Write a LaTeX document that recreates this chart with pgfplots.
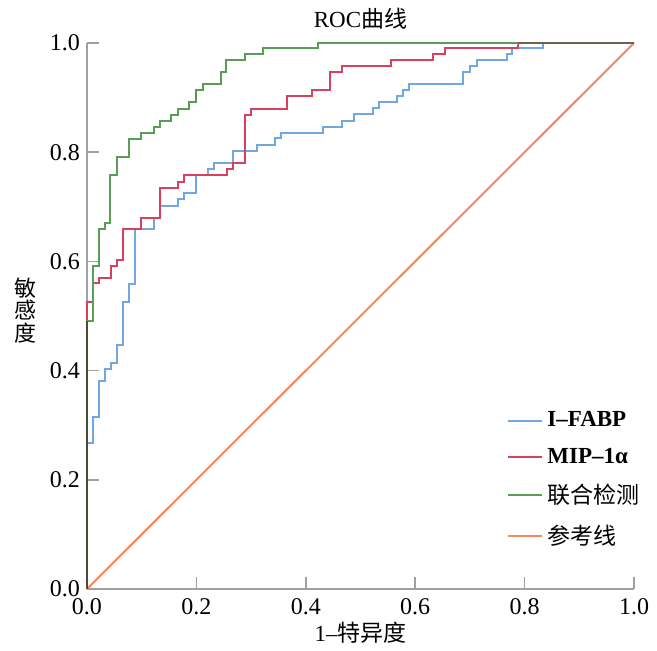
\documentclass[border=0pt]{standalone}
\usepackage{fontspec}
\setmainfont{Liberation Serif}
\newfontfamily\cjk{Noto Sans CJK SC}
\usepackage{pgfplots}
\pgfplotsset{compat=1.18}

\definecolor{cfabp}{HTML}{72A8E0}
\definecolor{cmip}{HTML}{D9405E}
\definecolor{ccomb}{HTML}{5A9E55}
\definecolor{cref}{HTML}{F4875F}
\definecolor{cdark}{HTML}{4D4A3A}
\definecolor{cdark2}{HTML}{6E6150}
\definecolor{caxis}{HTML}{A0A0A0}

\begin{document}
\begin{tikzpicture}
\useasboundingbox (-43.5pt,-30.5pt) rectangle (285pt,294.5pt);
\begin{axis}[
    scale only axis,
    width=273.5pt,
    height=273pt,
    xmin=0, xmax=1,
    ymin=0, ymax=1,
    clip=false,
    axis x line*=bottom,
    axis y line*=left,
    axis line style={-, caxis, line width=1.2pt},
    tick align=inside,
    major tick length=6pt,
    tick style={caxis, line width=0.8pt},
    xtick={0,0.2,0.4,0.6,0.8,1},
    xticklabels={0.0,0.2,0.4,0.6,0.8,1.0},
    ytick={0,0.2,0.4,0.6,0.8,1},
    yticklabels={0.0,0.2,0.4,0.6,0.8,1.0},
    ticklabel style={font=\fontsize{12}{14}\selectfont},
    xticklabel style={yshift=-1pt},
    title={ROC{\cjk 曲线}},
    title style={font=\fontsize{11.5}{13}\selectfont, at={(0.5,1)}, anchor=south, yshift=-2.5pt},
    xlabel={1--{\cjk 特异度}},
    xlabel style={font=\fontsize{11.5}{13}\selectfont, at={(axis description cs:0.5,0)}, anchor=center, yshift=-22pt},
    ylabel={敏\\感\\度},
    ylabel style={rotate=-90, align=center, font=\fontsize{11}{11.2}\selectfont\cjk, at={(axis description cs:-0.113,0.51)}, anchor=center},
    legend style={draw=none, fill=none, at={(axis description cs:0.757,0.34)}, anchor=north west,
        font=\fontsize{11.5}{13}\selectfont\bfseries, row sep=5pt, cells={anchor=west}},
    legend image code/.code={\draw[#1] (0pt,0pt) -- (17pt,0pt);},
    every axis plot/.append style={line width=1pt},
]

% I-FABP
\addplot[const plot, cfabp] coordinates {
    (0,0) (0,0.267) (0.011,0.315) (0.022,0.381) (0.033,0.403) (0.044,0.414)
    (0.055,0.447) (0.066,0.526) (0.077,0.559) (0.088,0.659) (0.122,0.679)
    (0.133,0.701) (0.166,0.714) (0.177,0.725) (0.199,0.758) (0.221,0.769)
    (0.232,0.780) (0.267,0.802) (0.311,0.813) (0.344,0.826) (0.355,0.835)
    (0.431,0.846) (0.466,0.857) (0.488,0.870) (0.523,0.881) (0.534,0.892)
    (0.567,0.903) (0.578,0.914) (0.589,0.925) (0.687,0.947) (0.700,0.958)
    (0.713,0.969) (0.768,0.980) (0.777,0.991) (0.834,1.0) (1,1)
};
\addlegendentry{I–FABP}

% MIP-1alpha
\addplot[const plot, cmip] coordinates {
    (0,0) (0,0.526) (0.011,0.560) (0.022,0.570) (0.044,0.592) (0.055,0.603)
    (0.066,0.659) (0.099,0.679) (0.133,0.734) (0.166,0.745) (0.177,0.758)
    (0.256,0.769) (0.267,0.780) (0.289,0.868) (0.300,0.880) (0.366,0.903)
    (0.411,0.914) (0.444,0.947) (0.466,0.958) (0.556,0.969) (0.633,0.980)
    (0.654,0.991) (0.788,1.0) (1,1)
};
\addlegendentry{MIP–1α}

% combined
\addplot[const plot, ccomb] coordinates {
    (0,0) (0,0.491) (0.011,0.592) (0.022,0.659) (0.033,0.670) (0.042,0.758)
    (0.055,0.791) (0.077,0.824) (0.099,0.835) (0.122,0.846) (0.133,0.857)
    (0.154,0.868) (0.166,0.879) (0.186,0.892) (0.199,0.914) (0.212,0.925)
    (0.245,0.947) (0.254,0.969) (0.289,0.980) (0.322,0.991) (0.422,1.0) (1,1)
};
\addlegendentry{\cjk\mdseries 联合检测}

% reference line
\addplot[cref] coordinates {(0,0) (1,1)};
\addlegendentry{\cjk\mdseries 参考线}

% overlapping segments look darker in the original
\addplot[cdark, forget plot] coordinates {(0,0) (0,0.491)};
\addplot[cdark2, forget plot] coordinates {(0.788,1) (1,1)};

\end{axis}
\end{tikzpicture}
\end{document}
